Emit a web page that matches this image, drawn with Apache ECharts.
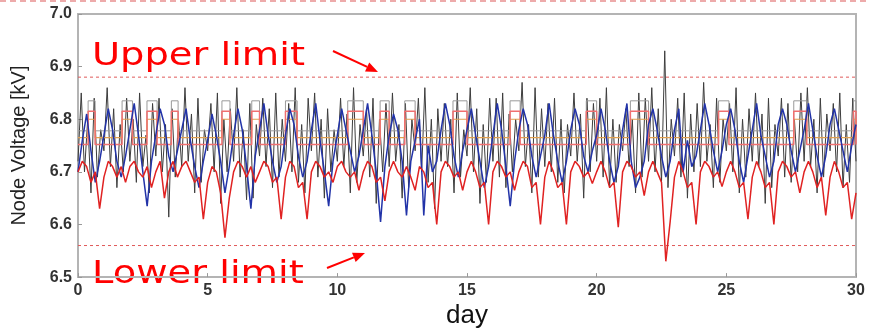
<!DOCTYPE html>
<html>
<head>
<meta charset="utf-8">
<script src="https://cdn.jsdelivr.net/npm/echarts@6/dist/echarts.min.js"></script>
<style>
html,body{margin:0;padding:0;background:#fff;}
#c{width:869px;height:334px;}
</style>
</head>
<body>
<div id="c"></div>
<script>
// ---- data (days 0..30) ----
const xTicks = [0, 5, 10, 15, 20, 25, 30];
const yTicks = [6.5, 6.6, 6.7, 6.8, 6.9, 7.0];
const upperLimit = 6.88;
const lowerLimit = 6.56;

// red node voltage, 6 samples per day (0h,4h,8h,12h,16h,20h)
const redPerDay = 6;
const redV = [
6.70,6.72,6.71,6.68,6.70,6.63, 6.69,6.72,6.71,6.69,6.71,6.68, 6.71,6.72,6.70,6.69,6.71,6.67,
6.70,6.72,6.65,6.70,6.72,6.69, 6.71,6.72,6.70,6.68,6.69,6.61, 6.68,6.71,6.70,6.66,6.575,6.65,
6.70,6.72,6.71,6.69,6.71,6.68, 6.70,6.72,6.71,6.68,6.69,6.61, 6.69,6.72,6.71,6.67,6.68,6.61,
6.70,6.72,6.71,6.69,6.70,6.68, 6.71,6.72,6.70,6.69,6.70,6.665, 6.70,6.72,6.71,6.68,6.69,6.645,
6.70,6.72,6.70,6.69,6.71,6.69, 6.665,6.71,6.70,6.67,6.68,6.60, 6.70,6.72,6.71,6.69,6.70,6.665,
6.70,6.72,6.70,6.67,6.68,6.60, 6.70,6.72,6.71,6.69,6.70,6.665, 6.70,6.72,6.71,6.67,6.68,6.60,
6.69,6.72,6.70,6.67,6.68,6.60, 6.70,6.72,6.71,6.69,6.70,6.678, 6.70,6.72,6.70,6.67,6.68,6.595,
6.70,6.72,6.71,6.69,6.70,6.655, 6.70,6.72,6.70,6.68,6.53,6.605, 6.69,6.72,6.70,6.67,6.68,6.60,
6.70,6.72,6.71,6.69,6.70,6.672, 6.70,6.72,6.70,6.67,6.68,6.61, 6.69,6.72,6.70,6.67,6.68,6.60,
6.70,6.72,6.71,6.69,6.70,6.66, 6.70,6.72,6.70,6.67,6.69,6.617, 6.69,6.72,6.70,6.67,6.68,6.61,
6.66
];

// blue node voltage, 6 samples per day
const bluePerDay = 6;
const blueV = [
6.70,6.76,6.81,6.74,6.68,6.72, 6.77,6.82,6.78,6.72,6.69,6.73, 6.78,6.83,6.77,6.70,6.635,6.72,
6.77,6.82,6.79,6.73,6.70,6.74, 6.78,6.82,6.76,6.71,6.67,6.72, 6.76,6.81,6.77,6.72,6.66,6.71,
6.77,6.82,6.78,6.71,6.63,6.73, 6.78,6.83,6.77,6.72,6.68,6.71, 6.77,6.82,6.79,6.73,6.69,6.72,
6.78,6.83,6.76,6.70,6.635,6.72, 6.77,6.82,6.78,6.74,6.70,6.73, 6.78,6.83,6.77,6.70,6.605,6.71,
6.77,6.81,6.78,6.72,6.617,6.72, 6.76,6.80,6.617,6.75,6.70,6.72, 6.78,6.83,6.79,6.73,6.69,6.74,
6.78,6.82,6.77,6.72,6.67,6.71, 6.77,6.83,6.78,6.71,6.635,6.72, 6.78,6.82,6.79,6.73,6.69,6.73,
6.77,6.83,6.77,6.72,6.68,6.72, 6.78,6.82,6.79,6.73,6.70,6.74, 6.77,6.82,6.78,6.72,6.68,6.71,
6.78,6.83,6.72,6.67,6.69,6.72, 6.79,6.82,6.78,6.73,6.69,6.72, 6.78,6.82,6.70,6.76,6.71,6.73,
6.78,6.83,6.79,6.74,6.70,6.74, 6.79,6.82,6.78,6.72,6.68,6.73, 6.78,6.83,6.77,6.73,6.69,6.72,
6.79,6.82,6.79,6.74,6.70,6.74, 6.78,6.83,6.78,6.73,6.69,6.73, 6.79,6.82,6.78,6.74,6.70,6.75,
6.79
];

// black node voltage, 8 samples per day (every 3h)
const blackPerDay = 8;
const blackV = [
6.72,6.85,6.70,6.80,6.66,6.84,6.69,6.78, 6.74,6.86,6.71,6.82,6.67,6.79,6.70,6.84,
6.72,6.80,6.68,6.85,6.71,6.77,6.66,6.83, 6.73,6.84,6.70,6.79,6.614,6.82,6.69,6.80,
6.71,6.86,6.72,6.81,6.66,6.84,6.68,6.78, 6.74,6.83,6.70,6.85,6.64,6.80,6.70,6.82,
6.72,6.86,6.69,6.78,6.647,6.83,6.65,6.79, 6.73,6.84,6.71,6.82,6.67,6.85,6.69,6.80,
6.72,6.83,6.70,6.86,6.68,6.79,6.66,6.84, 6.74,6.85,6.69,6.80,6.65,6.82,6.70,6.78,
6.72,6.84,6.71,6.81,6.66,6.86,6.68,6.79, 6.73,6.82,6.69,6.84,6.64,6.80,6.70,6.83,
6.71,6.85,6.72,6.79,6.65,6.83,6.67,6.80, 6.74,6.84,6.70,6.86,6.68,6.80,6.63,6.82,
6.72,6.83,6.71,6.80,6.66,6.85,6.69,6.78, 6.73,6.86,6.70,6.82,6.64,6.79,6.68,6.84,
6.72,6.84,6.69,6.85,6.67,6.81,6.70,6.80, 6.74,6.87,6.71,6.79,6.66,6.86,6.69,6.82,
6.71,6.83,6.70,6.84,6.68,6.80,6.66,6.79, 6.73,6.85,6.72,6.81,6.65,6.84,6.70,6.83,
6.72,6.84,6.69,6.86,6.67,6.80,6.68,6.79, 6.74,6.82,6.71,6.80,6.66,6.85,6.69,6.84,
6.72,6.86,6.70,6.82,6.68,6.93,6.67,6.80, 6.73,6.84,6.69,6.85,6.65,6.81,6.70,6.83,
6.71,6.87,6.72,6.79,6.67,6.84,6.68,6.80, 6.74,6.83,6.70,6.86,6.66,6.80,6.69,6.82,
6.72,6.85,6.71,6.81,6.64,6.84,6.67,6.79, 6.73,6.84,6.69,6.83,6.68,6.80,6.70,6.85,
6.72,6.86,6.71,6.80,6.66,6.84,6.69,6.81, 6.74,6.83,6.70,6.85,6.67,6.79,6.68,6.84,
6.72
];

// tap-step periods (day start / day end) when upper nodes jump up
const boxStart = [0.39,1.70,2.66,3.60,5.55,6.70,8.00,10.40,11.65,12.60,14.46,16.66,19.60,21.30,24.70,27.60,29.90];
const boxEnd   = [0.66,2.10,3.05,3.86,5.86,7.00,8.45,11.00,12.00,13.00,15.00,17.05,20.00,22.00,25.10,28.10,30.00];
const grayBase = 6.778, grayHigh = 6.835;
const pinkBase = 6.752, pinkHigh = 6.815;
const orangeBase = 6.765, orangeHigh = 6.800;

// ---- build ----
function sampled(arr, perDay){ return arr.map((v,i)=>[i/perDay, v]); }
function stepped(base, high){
  const d = [[0, base]];
  for (let i=0;i<boxStart.length;i++){
    d.push([boxStart[i], base],[boxStart[i], high],[boxEnd[i], high],[boxEnd[i], base]);
  }
  d.push([30, base]);
  return d;
}
function flat(v){ return [[xTicks[0], v],[xTicks[xTicks.length-1], v]]; }
function arrow(x1,y1,x2,y2,color){
  const dx=x2-x1, dy=y2-y1, L=Math.hypot(dx,dy), ux=dx/L, uy=dy/L;
  const hl=12, hw=5, bx=x2-ux*hl, by=y2-uy*hl, px=-uy*hw, py=ux*hw;
  return [
    {type:'line', shape:{x1:x1,y1:y1,x2:bx,y2:by}, style:{stroke:color,lineWidth:2}},
    {type:'polygon', shape:{points:[[x2,y2],[bx+px,by+py],[bx-px,by-py]]}, style:{fill:color}}
  ];
}

const chart = echarts.init(document.getElementById('c'), null, {renderer:'canvas'});
const tickFont = {color:'#333', fontSize:16, fontWeight:'bold', fontFamily:'Liberation Sans, Arial, sans-serif'};
const lineSer = (name, data, color, width, z, dash) => ({
  name, type:'line', data, showSymbol:false, symbol:'none', animation:false, silent:true, z:z,
  lineStyle:{color, width, type: dash || 'solid'}
});

const option = {
  animation:false,
  grid:{left:78, right:13, top:14, bottom:47, show:true, borderColor:'#b4b4b4', borderWidth:2, backgroundColor:'transparent'},
  xAxis:{
    type:'value', min:xTicks[0], max:xTicks[xTicks.length-1], interval:5,
    axisLine:{show:true, lineStyle:{color:'#b4b4b4', width:2}},
    axisTick:{show:true, inside:true, length:4, lineStyle:{color:'#999'}},
    axisLabel:Object.assign({margin:5, formatter:v=>String(v)}, tickFont),
    splitLine:{show:false},
    name:'day', nameLocation:'middle', nameGap:24,
    nameTextStyle:{color:'#111', fontSize:26, fontFamily:'Liberation Sans, Arial, sans-serif'}
  },
  yAxis:{
    type:'value', min:yTicks[0], max:yTicks[yTicks.length-1], interval:0.1,
    axisLine:{show:true, lineStyle:{color:'#b4b4b4', width:2}},
    axisTick:{show:true, inside:true, length:4, lineStyle:{color:'#999'}},
    axisLabel:Object.assign({margin:6, formatter:v=>v.toFixed(1)}, tickFont),
    splitLine:{show:false},
    name:'Node Voltage [kV]', nameLocation:'middle', nameGap:49, nameRotate:90,
    nameTextStyle:{color:'#222', fontSize:20, fontFamily:'Liberation Sans Narrow, Arial Narrow, Liberation Sans, sans-serif'}
  },
  series:[
    lineSer('upper', flat(upperLimit), '#e05a5a', 1, 1, [3,3]),
    lineSer('lower', flat(lowerLimit), '#e05a5a', 1, 1, [3,3]),
    lineSer('black', sampled(blackV, blackPerDay), '#3c3c3c', 1, 2),
    lineSer('gray', stepped(grayBase, grayHigh), '#9a9a9a', 1, 3),
    lineSer('orange', stepped(orangeBase, orangeHigh), '#e0a050', 1.2, 3),
    lineSer('pink', stepped(pinkBase, pinkHigh), '#f07070', 1.5, 3),
    lineSer('blue', sampled(blueV, bluePerDay), '#2233a8', 1.5, 4),
    lineSer('red', sampled(redV, redPerDay), '#e02222', 1.5, 5)
  ],
  graphic:[
    {type:'line', shape:{x1:0,y1:1,x2:869,y2:1}, style:{stroke:'#e89090', lineWidth:1.5, lineDash:[6,4]}},
    {type:'text', x:92, y:57, scaleX:1.2, style:{text:'Upper limit', fill:'#ff0000', font:'32px "DejaVu Sans", sans-serif', verticalAlign:'middle', align:'left'}},
    {type:'text', x:92, y:275, scaleX:1.2, style:{text:'Lower limit', fill:'#ff0000', font:'32px "DejaVu Sans", sans-serif', verticalAlign:'middle', align:'left'}}
  ].concat(arrow(333,51,378,72,'#ff0000')).concat(arrow(327,268,365,253,'#ff0000'))
};
chart.setOption(option);
</script>
</body>
</html>
